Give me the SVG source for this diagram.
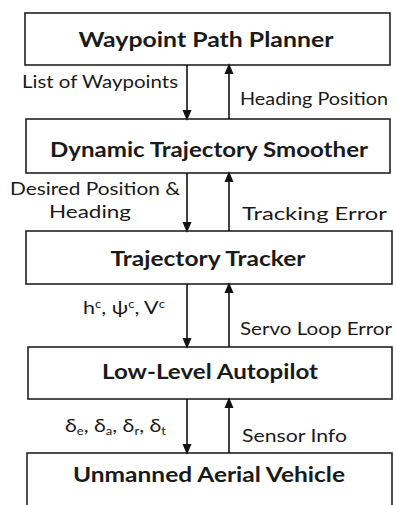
<svg xmlns="http://www.w3.org/2000/svg" width="396" height="505" viewBox="0 0 396 505">
<style>
.box{fill:#fff;stroke:#222;stroke-width:1.6}
.title{font-family:Lato,"Liberation Sans",sans-serif;font-weight:bold;font-size:20px;fill:#1a1a1a;text-anchor:middle}
.lbl{font-family:Lato,"Liberation Sans",sans-serif;font-size:18px;fill:#1a1a1a}
.ln{stroke:#111;stroke-width:1.6;fill:none}
</style>
<defs>
<marker id="ah" markerWidth="11" markerHeight="13" refX="11" refY="5.5" orient="auto" markerUnits="userSpaceOnUse" viewBox="0 0 13 11">
<path d="M0,0 L13,5.5 L0,11 Z" fill="#111"/>
</marker>
</defs>
<rect width="396" height="505" fill="#fff"/>
<g id="waypoint-path-planner">
<rect class="box" x="25" y="13" width="365" height="52"/>
<text class="title" x="206" y="47" textLength="255" lengthAdjust="spacingAndGlyphs">Waypoint Path Planner</text>
</g>
<g id="dynamic-trajectory-smoother">
<rect class="box" x="26" y="119" width="364" height="54"/>
<text class="title" x="209" y="157" textLength="318" lengthAdjust="spacingAndGlyphs">Dynamic Trajectory Smoother</text>
</g>
<g id="trajectory-tracker">
<rect class="box" x="26" y="231" width="366" height="53"/>
<text class="title" x="208" y="266" textLength="195" lengthAdjust="spacingAndGlyphs">Trajectory Tracker</text>
</g>
<g id="low-level-autopilot">
<rect class="box" x="28" y="347" width="364" height="52"/>
<text class="title" x="210" y="379" textLength="216" lengthAdjust="spacingAndGlyphs">Low-Level Autopilot</text>
</g>
<g id="unmanned-aerial-vehicle">
<rect class="box" x="27" y="453" width="365" height="70"/>
<text class="title" x="209" y="482" textLength="272" lengthAdjust="spacingAndGlyphs">Unmanned Aerial Vehicle</text>
</g>
<g id="connectors">
<line class="ln" x1="187" y1="65" x2="187" y2="119" marker-end="url(#ah)"/>
<line class="ln" x1="229" y1="119" x2="229" y2="65" marker-end="url(#ah)"/>
<line class="ln" x1="187" y1="173" x2="187" y2="231" marker-end="url(#ah)"/>
<line class="ln" x1="229" y1="231" x2="229" y2="173" marker-end="url(#ah)"/>
<line class="ln" x1="187" y1="284" x2="187" y2="347" marker-end="url(#ah)"/>
<line class="ln" x1="229" y1="347" x2="229" y2="284" marker-end="url(#ah)"/>
<line class="ln" x1="187" y1="399" x2="187" y2="453" marker-end="url(#ah)"/>
<line class="ln" x1="229" y1="453" x2="229" y2="399" marker-end="url(#ah)"/>
<text class="lbl" x="22" y="88" textLength="156" lengthAdjust="spacingAndGlyphs">List of Waypoints</text>
<text class="lbl" x="240" y="105" textLength="148" lengthAdjust="spacingAndGlyphs">Heading Position</text>
<text class="lbl" x="10" y="195" textLength="170" lengthAdjust="spacingAndGlyphs">Desired Position &amp;</text>
<text class="lbl" x="49" y="218" textLength="82" lengthAdjust="spacingAndGlyphs">Heading</text>
<text class="lbl" x="242" y="220" textLength="145" lengthAdjust="spacingAndGlyphs">Tracking Error</text>
<text class="lbl" x="83" y="314" textLength="82" lengthAdjust="spacingAndGlyphs">h<tspan font-size="11" dy="-6">c</tspan><tspan dy="6">, ψ</tspan><tspan font-size="11" dy="-6">c</tspan><tspan dy="6">, V</tspan><tspan font-size="11" dy="-6">c</tspan></text>
<text class="lbl" x="240" y="335" textLength="152" lengthAdjust="spacingAndGlyphs">Servo Loop Error</text>
<text class="lbl" x="65" y="432" textLength="101" lengthAdjust="spacingAndGlyphs">δ<tspan font-size="11" dy="3">e</tspan><tspan dy="-3">, δ</tspan><tspan font-size="11" dy="3">a</tspan><tspan dy="-3">, δ</tspan><tspan font-size="11" dy="3">r</tspan><tspan dy="-3">, δ</tspan><tspan font-size="11" dy="3">t</tspan></text>
<text class="lbl" x="242" y="442" textLength="105" lengthAdjust="spacingAndGlyphs">Sensor Info</text>
</g>
</svg>
